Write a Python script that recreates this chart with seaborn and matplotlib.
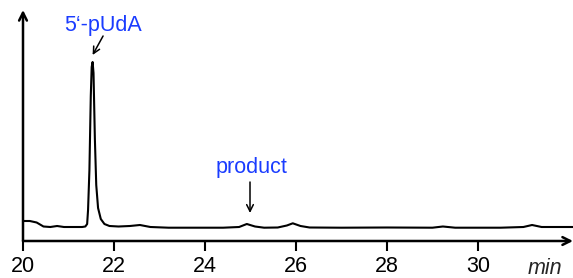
import matplotlib
matplotlib.use("Agg")
import matplotlib.pyplot as plt
import pandas as pd
import seaborn as sns

sns.set_theme(style="white")
plt.rcParams["font.family"] = ["Liberation Sans", "DejaVu Sans"]

# retention time (min) and detector signal (arbitrary units)
time_min = [20.00, 20.15, 20.30, 20.45, 20.60, 20.75, 20.90, 21.10, 21.30, 21.37,
            21.41, 21.43, 21.46, 21.49, 21.51, 21.53, 21.55, 21.58, 21.61, 21.65,
            21.71, 21.79, 21.90, 22.10, 22.35, 22.57, 22.80, 23.20, 23.80, 24.40,
            24.75, 24.92, 25.10, 25.30, 25.60, 25.80, 25.93, 26.10, 26.30, 27.00,
            28.00, 29.00, 29.23, 29.50, 30.50, 31.00, 31.19, 31.40, 32.09]
signal = [20.0, 20.0, 18.5, 14.5, 14.0, 15.0, 14.0, 14.0, 14.0, 14.5,
          17.0, 31.0, 71.0, 145.0, 174.0, 179.0, 168.0, 102.0, 56.0, 33.0,
          22.0, 17.0, 15.0, 14.5, 15.0, 16.0, 14.0, 13.3, 13.3, 13.3,
          14.0, 17.0, 14.5, 13.3, 13.5, 15.5, 17.7, 15.0, 13.5, 13.3,
          13.5, 13.3, 14.5, 13.3, 13.3, 14.0, 16.0, 14.0, 14.0]

tick_values = [20, 22, 24, 26, 28, 30]
peak_labels = ["5‘-pUdA", "product"]
peak_times = [21.53, 24.99]

df = pd.DataFrame({"time": time_min, "signal": signal})

fig = plt.figure(figsize=(5.73, 2.78), dpi=100)
ax = fig.add_axes([23 / 573, 37 / 278, 550 / 573, 231 / 278])

sns.lineplot(data=df, x="time", y="signal", color="black", lw=1.5, ax=ax)

ax.set_xlim(20, 32.09)
ax.set_ylim(0, 231)
for s in ax.spines.values():
    s.set_visible(False)
ax.set_yticks([])
ax.set_xticks(tick_values)
ax.set_xticklabels([str(v) for v in tick_values], fontsize=15.5)
ax.tick_params(axis="x", direction="out", length=7, width=1.5, pad=4,
               bottom=True, colors="black")
ax.set_xlabel("")
ax.set_ylabel("")

# axis arrows
arrow = dict(arrowstyle="->", lw=1.8, color="black", mutation_scale=14,
             shrinkA=0, shrinkB=0)
ax.annotate("", xy=(1, 0), xytext=(0, 0), xycoords="axes fraction",
            arrowprops=arrow, annotation_clip=False)
ax.annotate("", xy=(0, 1), xytext=(0, 0), xycoords="axes fraction",
            arrowprops=arrow, annotation_clip=False)

# peak labels
blue = "#1a3cff"
head = dict(arrowstyle="->", lw=1.1, color="black", mutation_scale=12,
            shrinkA=0, shrinkB=0)
ax.text(21.76, 215, peak_labels[0], color=blue, fontsize=15.5,
        ha="center", va="center")
ax.annotate("", xy=(peak_times[0], 186), xytext=(21.76, 205), arrowprops=head)
ax.text(25.03, 73, peak_labels[1], color=blue, fontsize=15.5,
        ha="center", va="center")
ax.annotate("", xy=(peak_times[1], 28), xytext=(peak_times[1], 59), arrowprops=head)

ax.text(31.47, -27, "min", fontsize=15.5, style="italic", ha="center",
        va="center", clip_on=False)

fig.savefig("out.png", dpi=100)
plt.close(fig)
